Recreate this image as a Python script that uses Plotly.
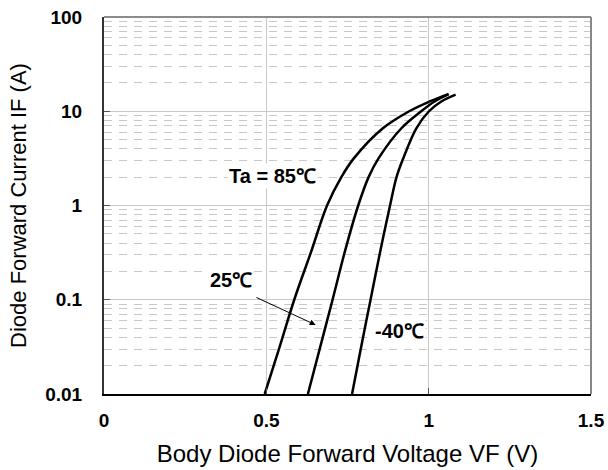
import plotly.graph_objects as go

# Data (VF in V, IF in A)
vf_85 = [0.495, 0.541, 0.586, 0.637, 0.687, 0.731, 0.770, 0.859, 0.940, 1.003, 1.060]
if_85 = [0.01, 0.0316, 0.1, 0.316, 1.0, 2.0, 3.18, 6.6, 10.0, 12.7, 15.2]

vf_25 = [0.628, 0.666, 0.704, 0.741, 0.783, 0.815, 0.846, 0.916, 0.977, 1.018, 1.062]
if_25 = [0.01, 0.0316, 0.1, 0.316, 1.0, 2.0, 3.18, 6.6, 10.0, 12.7, 15.2]

vf_m40 = [0.764, 0.792, 0.821, 0.850, 0.881, 0.901, 0.922, 0.962, 1.001, 1.039, 1.083]
if_m40 = [0.01, 0.0316, 0.1, 0.316, 1.0, 2.0, 3.18, 6.6, 10.0, 12.7, 15.0]

x_ticks = [0, 0.5, 1, 1.5]
x_tick_text = ["0", "0.5", "1", "1.5"]
y_ticks = [0.01, 0.1, 1, 10, 100]
y_tick_text = ["0.01", "0.1", "1", "10", "100"]

FONT = "Liberation Sans, Arial, sans-serif"
GRID = "#c8c8c8"

fig = go.Figure()
for vx, iy, name in [(vf_85, if_85, "85"), (vf_25, if_25, "25"), (vf_m40, if_m40, "-40")]:
    fig.add_trace(go.Scatter(x=vx, y=iy, mode="lines", name=name,
                             line=dict(color="black", width=2.5, shape="spline", smoothing=1.0),
                             showlegend=False, hoverinfo="skip"))

fig.update_xaxes(range=[0, 1.5], tickvals=x_ticks, ticktext=x_tick_text,
                 showgrid=True, gridcolor=GRID, gridwidth=1,
                 showline=True, linecolor="black", linewidth=2,
                 ticks="inside", ticklen=6, tickcolor="#555",
                 ticklabelstandoff=8, automargin=False,
                 tickfont=dict(family=FONT, size=19, color="black", weight="bold"),
                 title=dict(text="Body Diode Forward Voltage VF (V)",
                            font=dict(family=FONT, size=24, color="black"), standoff=15),
                 zeroline=False)
fig.update_yaxes(type="log", range=[-2, 2], tickvals=y_ticks, ticktext=y_tick_text,
                 showgrid=True, gridcolor=GRID, gridwidth=1,
                 showline=True, linecolor="#333", linewidth=2,
                 ticks="inside", ticklen=6, tickcolor="#555",
                 ticklabelstandoff=16, automargin=False,
                 tickfont=dict(family=FONT, size=19, color="black", weight="bold"),
                 minor=dict(dtick="D1", showgrid=True, gridcolor=GRID, gridwidth=1,
                            griddash="8px,7px", ticks=""),
                 title=dict(text="Diode Forward Current IF (A)",
                            font=dict(family=FONT, size=22, color="black"), standoff=13),
                 zeroline=False)

# top and right frame
fig.add_shape(type="line", xref="paper", yref="paper", x0=0, x1=1, y0=1, y1=1,
              line=dict(color="#666", width=1.5))
fig.add_shape(type="line", xref="paper", yref="paper", x0=1, x1=1, y0=0, y1=1,
              line=dict(color="#888", width=2))

lab_font = dict(family=FONT, size=20, color="black", weight="bold")
fig.add_annotation(x=0.52, y=0.315, text="Ta = 85℃", showarrow=False, font=lab_font,
                   bgcolor="white", xref="x", yref="y")
fig.add_annotation(x=0.391, y=-0.789, text="25℃", showarrow=False, font=lab_font,
                   bgcolor="white", xref="x", yref="y")
fig.add_annotation(x=0.911, y=-1.33, text="-40℃", showarrow=False, font=lab_font,
                   bgcolor="white", xref="x", yref="y")
fig.add_annotation(x=0.652, y=-1.267, ax=0.465, ay=-0.969, axref="x", ayref="y",
                   xref="x", yref="y", text="", showarrow=True, arrowhead=2,
                   arrowsize=1.2, arrowwidth=1, arrowcolor="black")

fig.update_layout(width=608, height=470, margin=dict(l=104, r=17, t=17, b=76),
                  plot_bgcolor="white", paper_bgcolor="white",
                  font=dict(family=FONT))

fig.write_html("out.html", config={"displayModeBar": False},
               post_script="document.body.style.margin='0';document.body.style.padding='0';")
